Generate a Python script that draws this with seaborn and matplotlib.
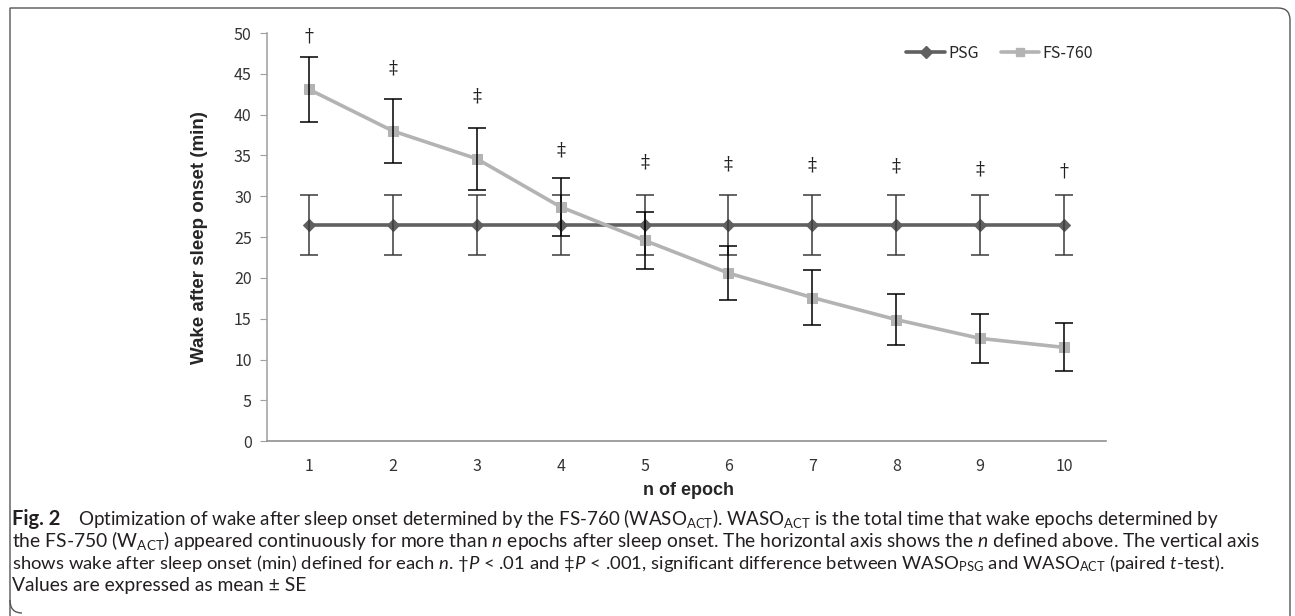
import numpy as np
import pandas as pd
import matplotlib
matplotlib.use("Agg")
import matplotlib.pyplot as plt
import seaborn as sns
from matplotlib.lines import Line2D
from matplotlib.path import Path
from matplotlib.patches import PathPatch

# data
epochs = [1, 2, 3, 4, 5, 6, 7, 8, 9, 10]
psg_mean = [26.5, 26.5, 26.5, 26.5, 26.5, 26.5, 26.5, 26.5, 26.5, 26.5]
psg_se = [3.65, 3.65, 3.65, 3.65, 3.65, 3.65, 3.65, 3.65, 3.65, 3.65]
fs_mean = [43.1, 38.0, 34.6, 28.7, 24.6, 20.6, 17.6, 14.9, 12.6, 11.5]
fs_se = [3.95, 3.9, 3.8, 3.55, 3.5, 3.35, 3.35, 3.1, 3.05, 2.95]
sig_marks = ['†', '‡', '‡', '‡', '‡', '‡', '‡', '‡', '‡', '†']
sig_y = [49.6, 45.7, 42.2, 35.6, 34.1, 33.9, 33.8, 33.6, 33.3, 33.1]

df = pd.DataFrame({'epoch': epochs, 'PSG': psg_mean, 'FS-760': fs_mean})

sns.set_style("white")
plt.rcParams['mathtext.fontset'] = 'custom'
plt.rcParams['mathtext.rm'] = 'Lato'
plt.rcParams['mathtext.it'] = 'Lato:italic'
plt.rcParams['mathtext.bf'] = 'Lato:bold'

W, H = 1295, 616
fig = plt.figure(figsize=(W / 100, H / 100), dpi=100)
ax = fig.add_axes([267 / W, 1 - 441.3 / H, (1106 - 267) / W, 408.3 / H])

psg_col = '#606060'
fs_col = '#b3b3b3'

sns.lineplot(data=df, x='epoch', y='PSG', ax=ax, color=psg_col, lw=2.6,
             marker='D', markersize=6.5, markeredgecolor=psg_col, zorder=3)
ax.errorbar(epochs, psg_mean, yerr=psg_se, fmt='none', ecolor='#3a3a3a',
            elinewidth=1.1, capsize=6.5, capthick=1.1, zorder=4)
sns.lineplot(data=df, x='epoch', y='FS-760', ax=ax, color=fs_col, lw=2.6,
             marker='s', markersize=7, markeredgecolor=fs_col, zorder=5)
ax.errorbar(epochs, fs_mean, yerr=fs_se, fmt='none', ecolor='black',
            elinewidth=1.1, capsize=6.5, capthick=1.1, zorder=6)

for x, m, yy in zip(epochs, sig_marks, sig_y):
    ax.text(x, yy, m, ha='center', va='center', fontsize=13,
            family='DejaVu Serif', color='#222222')

ax.set_xlim(0.5, 10.5)
ax.set_ylim(0, 50)
ax.set_yticks(range(0, 51, 5))
ax.set_xticks(epochs)
ax.set_xticks(np.arange(0.5, 11, 1), minor=True)
ax.tick_params(axis='x', which='major', length=0, pad=12)
ax.tick_params(axis='x', which='minor', length=5, color='#a0a0a0', direction='out')
ax.tick_params(axis='y', length=5, color='#a0a0a0', direction='out', pad=6, left=True)
for lab in ax.get_xticklabels() + ax.get_yticklabels():
    lab.set_fontfamily('Noto Sans CJK JP')
    lab.set_fontsize(11.5)
    lab.set_color('#333333')
sns.despine(ax=ax)
ax.spines['left'].set_color('#a6a6a6')
ax.spines['bottom'].set_color('#909090')
ax.spines['left'].set_linewidth(1.2)
ax.spines['bottom'].set_linewidth(1.2)

ax.set_ylabel('Wake after sleep onset (min)', fontsize=13.5, fontweight='bold',
              family='Liberation Sans')
ax.set_xlabel('n of epoch', fontsize=13, fontweight='bold', family='Liberation Sans')
ax.yaxis.set_label_coords(-0.070, 0.5)
ax.xaxis.set_label_coords(0.502, -0.099)

handles = [Line2D([], [], color=psg_col, lw=2.6, marker='D', markersize=6),
           Line2D([], [], color=fs_col, lw=2.6, marker='s', markersize=6)]
ax.legend(handles, ['PSG', 'FS-760'], loc='center left', bbox_to_anchor=(0.745, 0.951),
          ncol=2, frameon=False, handlelength=2.4, handletextpad=0.2, columnspacing=1.4,
          prop={'family': 'Noto Sans CJK JP', 'size': 11.5})

# caption frame
def px(x, y):
    return (x / W, 1 - y / H)

verts = [px(10, 640), px(10, 8), px(1278, 8), px(1290, 8), px(1290, 20), px(1290, 640)]
codes = [Path.MOVETO, Path.LINETO, Path.LINETO, Path.CURVE3, Path.CURVE3, Path.LINETO]
fig.patches.append(PathPatch(Path(verts, codes), transform=fig.transFigure,
                             fill=False, lw=1.0, edgecolor='#555555'))
verts2 = [px(10, 600), px(10, 613), px(22, 613)]
fig.patches.append(PathPatch(Path(verts2, [Path.MOVETO, Path.CURVE3, Path.CURVE3]),
                             transform=fig.transFigure, fill=False, lw=1.0,
                             edgecolor='#555555'))

cap_kw = dict(family=['Lato', 'DejaVu Sans'], color='#231f20', va='center', ha='left')
fig.text(*px(12, 519), 'Fig. 2', fontweight='bold', fontsize=14.5, **cap_kw)
fig.text(*px(78, 519),
         r'Optimization of wake after sleep onset determined by the FS-760 (WASO$_{\mathrm{ACT}}$). '
         r'WASO$_{\mathrm{ACT}}$ is the total time that wake epochs determined by',
         fontsize=13.5, **cap_kw)
fig.text(*px(12, 541),
         r'the FS-750 (W$_{\mathrm{ACT}}$) appeared continuously for more than $n$ epochs after '
         r'sleep onset. The horizontal axis shows the $n$ defined above. The vertical axis',
         fontsize=13.9, **cap_kw)
fig.text(*px(12, 563),
         r'shows wake after sleep onset (min) defined for each $n$. †$P$ < .01 and ‡$P$ < .001, '
         r'significant difference between WASO$_{\mathrm{PSG}}$ and WASO$_{\mathrm{ACT}}$ '
         r'(paired $t$-test).', fontsize=13.3, **cap_kw)
fig.text(*px(12, 585), 'Values are expressed as mean ± SE', fontsize=13.9, **cap_kw)

fig.savefig('out.png', dpi=100)
